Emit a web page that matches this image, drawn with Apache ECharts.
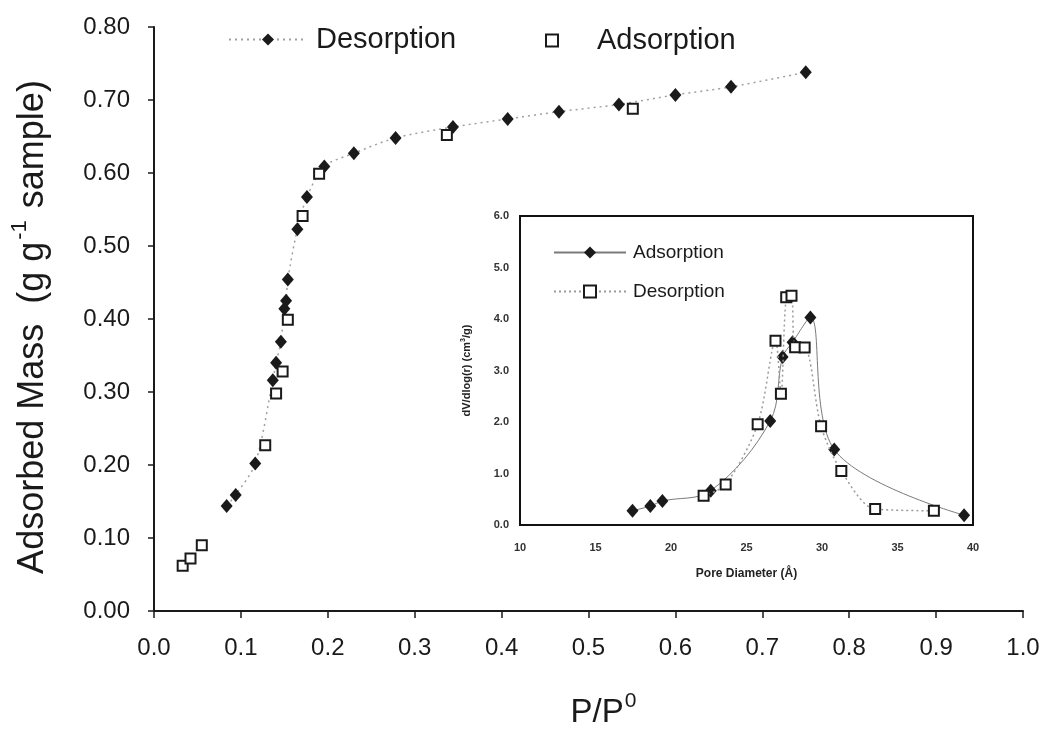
<!DOCTYPE html>
<html>
<head>
<meta charset="utf-8">
<script src="https://cdn.jsdelivr.net/npm/echarts@6/dist/echarts.min.js"></script>
<style>
html,body{margin:0;padding:0;background:#fff;}
#c{width:1049px;height:734px;}
</style>
</head>
<body>
<div id="c"></div>
<script>
// ---- Main isotherm data ----
var adsX = [0.033, 0.042, 0.055, 0.128, 0.1405, 0.148, 0.154, 0.171, 0.190, 0.337, 0.551];
var adsY = [0.062, 0.072, 0.090, 0.227, 0.298, 0.328, 0.399, 0.541, 0.599, 0.652, 0.688];
var desX = [0.0836, 0.094, 0.1165, 0.1367, 0.1405, 0.146, 0.150, 0.152, 0.154, 0.165, 0.176, 0.196, 0.230, 0.278, 0.344, 0.407, 0.466, 0.535, 0.600, 0.664, 0.750];
var desY = [0.144, 0.159, 0.202, 0.316, 0.340, 0.369, 0.414, 0.425, 0.454, 0.523, 0.567, 0.609, 0.627, 0.648, 0.663, 0.674, 0.684, 0.694, 0.707, 0.718, 0.738];
var mainXTicks = [0, 1, 0.1];
var mainYTicks = [0, 0.8, 0.1];

// ---- Inset pore size distribution data ----
var psdAdsX = [17.45, 18.63, 19.43, 22.63, 26.57, 27.39, 28.05, 29.23, 30.81, 39.41];
var psdAdsY = [0.277, 0.368, 0.465, 0.665, 2.02, 3.26, 3.55, 4.03, 1.465, 0.19];
var psdDesX = [22.16, 23.62, 25.74, 26.92, 27.28, 27.63, 27.98, 28.22, 28.85, 29.94, 31.28, 33.52, 37.41];
var psdDesY = [0.568, 0.787, 1.955, 3.58, 2.55, 4.42, 4.45, 3.45, 3.445, 1.916, 1.05, 0.31, 0.277];
var insetXTicks = [10, 40, 5];
var insetYTicks = [0, 6, 1];

function zip(xs, ys){ return xs.map(function(x,i){ return [x, ys[i]]; }); }

var FONT = "'Liberation Sans', Arial, sans-serif";
var INK = '#1a1a1a';
var legendNames = {mDes:'Desorption', mAds:'Adsorption', pAds:'Adsorption', pDes:'Desorption'};

var chart = echarts.init(document.getElementById('c'), null, {renderer:'canvas'});
chart.setOption({
  backgroundColor: '#fff',
  animation: false,
  textStyle: {fontFamily: FONT},
  legend: [
    {
      data: ['mDes'], left: 223, top: 20, itemWidth: 78, itemHeight: 15,
      formatter: function(n){ return legendNames[n]; },
      textStyle: {fontSize: 29, color: INK, fontFamily: FONT, padding:[0,0,0,4]},
      selectedMode: false, z: 10
    },
    {
      data: ['mAds'], left: 540, top: 21, itemWidth: 12, itemHeight: 12,
      formatter: function(n){ return legendNames[n]; },
      textStyle: {fontSize: 29, color: INK, fontFamily: FONT, padding:[0,0,0,34]},
      selectedMode: false, z: 10
    },
    {
      data: ['pAds', 'pDes'], orient: 'vertical', left: 548, top: 238, itemGap: 20,
      itemWidth: 72, itemHeight: 15,
      formatter: function(n){ return legendNames[n]; },
      textStyle: {fontSize: 19, color: INK, fontFamily: FONT, padding:[0,0,0,2]},
      selectedMode: false, z: 10
    }
  ],
  grid: [
    {left: 154, right: 26, top: 27, bottom: 111, show: false},
    {left: 520, right: 76, top: 216, bottom: 209, show: true, backgroundColor: '#fff', borderColor: '#111', borderWidth: 2, z: 5}
  ],
  xAxis: [
    {
      type: 'value', gridIndex: 0, min: mainXTicks[0], max: mainXTicks[1], interval: mainXTicks[2],
      splitLine: {show: false},
      axisLine: {show: true, lineStyle: {color: INK, width: 2}},
      axisTick: {show: true, length: 7, lineStyle: {color: INK, width: 1.5}},
      axisLabel: {fontSize: 24, color: INK, margin: 25, formatter: function(v){ return v.toFixed(1); }},
      name: 'P/P{sup|0}', nameLocation: 'middle', nameGap: 80,
      nameTextStyle: {fontSize: 33, color: INK, fontFamily: FONT, padding: [0,0,0,30],
        rich: {sup: {fontSize: 21, color: INK, fontFamily: FONT, padding: [0,0,22,1]}}}
    },
    {
      type: 'value', gridIndex: 1, min: insetXTicks[0], max: insetXTicks[1], interval: insetXTicks[2],
      splitLine: {show: false},
      axisLine: {show: true, lineStyle: {color: '#111', width: 2}},
      axisTick: {show: false},
      axisLabel: {fontSize: 11, fontWeight: 'bold', color: '#333', margin: 17},
      name: 'Pore Diameter (Å)', nameLocation: 'middle', nameGap: 43,
      nameTextStyle: {fontSize: 12, fontWeight: 'bold', color: '#222', fontFamily: FONT}
    }
  ],
  yAxis: [
    {
      type: 'value', gridIndex: 0, min: mainYTicks[0], max: mainYTicks[1], interval: mainYTicks[2],
      splitLine: {show: false},
      axisLine: {show: true, lineStyle: {color: INK, width: 2}},
      axisTick: {show: true, length: 6, lineStyle: {color: INK, width: 1.5}},
      axisLabel: {fontSize: 24, color: INK, margin: 24, formatter: function(v){ return v.toFixed(2); }},
      name: 'Adsorbed Mass  (g g{sup|-1} sample)', nameLocation: 'middle', nameRotate: 90, nameGap: 97,
      nameTextStyle: {fontSize: 36, color: INK, fontFamily: FONT, padding: [0,16,0,0],
        rich: {sup: {fontSize: 22, color: INK, fontFamily: FONT, padding: [0,2,26,2]}}}
    },
    {
      type: 'value', gridIndex: 1, min: insetYTicks[0], max: insetYTicks[1], interval: insetYTicks[2],
      splitLine: {show: false},
      axisLine: {show: true, lineStyle: {color: '#111', width: 2}},
      axisTick: {show: false},
      axisLabel: {fontSize: 11, fontWeight: 'bold', color: '#333', margin: 11, formatter: function(v){ return v.toFixed(1); }},
      name: 'dV/dlog(r) (cm{sup|3}/g)', nameLocation: 'middle', nameRotate: 90, nameGap: 46,
      nameTextStyle: {fontSize: 11, fontWeight: 'bold', color: '#222', fontFamily: FONT,
        rich: {sup: {fontSize: 7, fontWeight: 'bold', color: '#222', fontFamily: FONT, padding: [0,0,7,0]}}}
    }
  ],
  series: [
    {
      name: 'mDes', type: 'line', xAxisIndex: 0, yAxisIndex: 0,
      data: zip(desX, desY), smooth: 0.3,
      symbol: 'diamond', symbolSize: [12, 14],
      itemStyle: {color: INK},
      lineStyle: {color: '#a0a0a0', width: 1.5, type: [2, 4]},
      z: 3
    },
    {
      name: 'mAds', type: 'scatter', xAxisIndex: 0, yAxisIndex: 0,
      data: zip(adsX, adsY),
      symbol: 'rect', symbolSize: 10,
      itemStyle: {color: '#fff', borderColor: INK, borderWidth: 2, opacity: 1},
      z: 4
    },
    {
      name: 'pAds', type: 'line', xAxisIndex: 1, yAxisIndex: 1,
      data: zip(psdAdsX, psdAdsY), smooth: 0.35,
      symbol: 'diamond', symbolSize: [12, 14],
      itemStyle: {color: INK},
      lineStyle: {color: '#7a7a7a', width: 1},
      z: 6
    },
    {
      name: 'pDes', type: 'line', xAxisIndex: 1, yAxisIndex: 1,
      data: zip(psdDesX, psdDesY), smooth: 0.3,
      symbol: 'rect', symbolSize: 10,
      itemStyle: {color: '#fff', borderColor: INK, borderWidth: 2},
      lineStyle: {color: '#9a9a9a', width: 1.5, type: [2, 3]},
      z: 7
    }
  ]
});
</script>
</body>
</html>
